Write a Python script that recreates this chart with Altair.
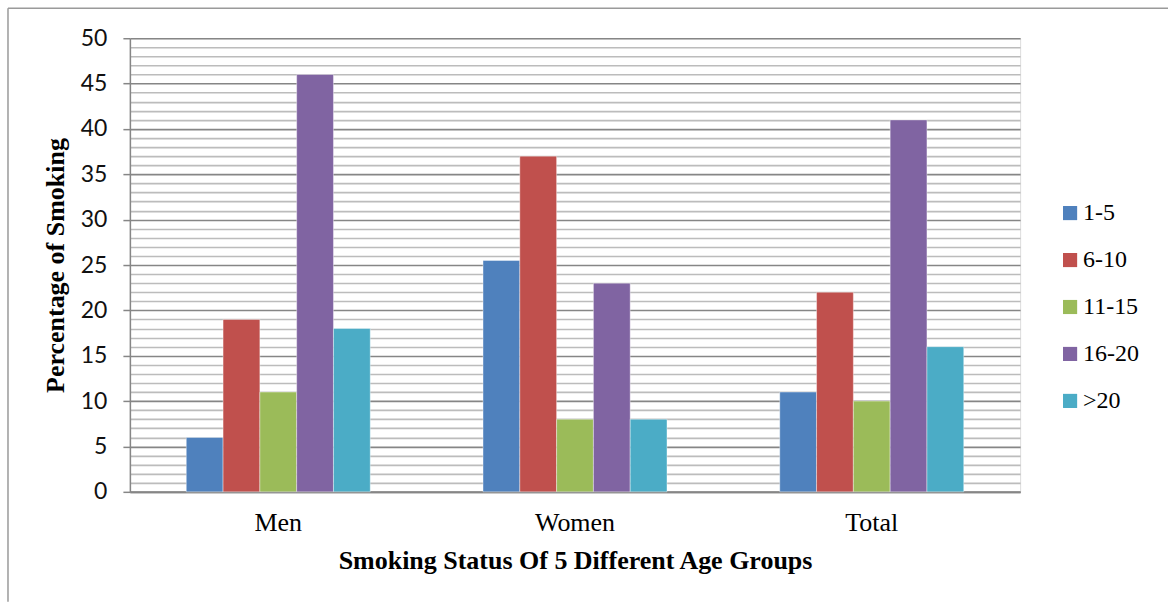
import altair as alt
import pandas as pd

# Smoking prevalence (%) by age-of-onset group
groups = ["Men", "Women", "Total"]
age_groups = ["1-5", "6-10", "11-15", "16-20", ">20"]
men = [6, 19, 11, 46, 18]
women = [25.5, 37, 8, 23, 8]
total = [11, 22, 10, 41, 16]
palette = ["#4F81BD", "#C0504D", "#9BBB59", "#8064A2", "#4BACC6"]

rows = []
for g, vals in zip(groups, [men, women, total]):
    for a, v in zip(age_groups, vals):
        rows.append({"group": g, "age": a, "value": v})
df = pd.DataFrame(rows)

W, H = 891, 454
SERIF = "Liberation Serif"

bars = alt.Chart(df).mark_bar(stroke="white", strokeWidth=0.4).encode(
    x=alt.X(
        "group:N",
        sort=groups,
        scale=alt.Scale(paddingInner=0.38, paddingOuter=0.19),
        axis=alt.Axis(
            title="Smoking Status Of 5 Different Age Groups",
            titleFont=SERIF, titleFontSize=26, titleFontWeight="bold",
            titleColor="black", titlePadding=12,
            labelFont=SERIF, labelFontSize=26, labelColor="black",
            labelAngle=0, labelPadding=18,
            ticks=False, domainColor="#868686", domainWidth=2,
        ),
    ),
    xOffset=alt.XOffset("age:N", sort=age_groups,
                        scale=alt.Scale(paddingInner=0, paddingOuter=0)),
    y=alt.Y(
        "value:Q",
        scale=alt.Scale(domain=[0, 50], nice=False),
        axis=alt.Axis(
            title="Percentage of Smoking",
            titleFont=SERIF, titleFontSize=26, titleFontWeight="bold",
            titleColor="black", titlePadding=12,
            values=list(range(0, 51)),
            labelExpr="datum.value % 5 === 0 ? datum.label : ''",
            labelFont="Lato", labelFontSize=23, labelColor="#111",
            labelPadding=16,
            tickSize=7, tickColor="#868686", tickWidth=1.5,
            tickOpacity=alt.condition("datum.value % 5 === 0", alt.value(1), alt.value(0)),
            grid=True, gridWidth=1.6,
            gridColor=alt.condition("datum.value % 5 === 0", alt.value("#868686"), alt.value("#bcbcbc")),
            domainColor="#868686", domainWidth=1.5,
        ),
    ),
    color=alt.Color(
        "age:N",
        sort=age_groups,
        scale=alt.Scale(domain=age_groups, range=palette),
        legend=alt.Legend(
            title=None, orient="none", legendX=929, legendY=163,
            symbolType="square", symbolSize=200, symbolStrokeWidth=0,
            labelFont=SERIF, labelFontSize=24, labelColor="black",
            rowPadding=23, labelOffset=1, padding=0,
        ),
    ),
)

# Light frame around the figure (left and top edges)
frame_left = alt.Chart(pd.DataFrame({"k": [0]})).mark_rule(color="#9a9a9a", strokeWidth=1.5).encode(
    x=alt.value(-122), y=alt.value(-30), y2=alt.value(564)
)
frame_top = alt.Chart(pd.DataFrame({"k": [0]})).mark_rule(color="#9a9a9a", strokeWidth=1.5).encode(
    x=alt.value(-122), x2=alt.value(1039), y=alt.value(-30)
)

chart = alt.layer(bars, frame_left, frame_top).properties(
    width=W, height=H,
    padding={"left": 7, "top": 7, "right": 0, "bottom": 0},
).configure_view(stroke=None).configure(background="white")

chart.save("out.html", embed_options={"renderer": "svg", "actions": False})
